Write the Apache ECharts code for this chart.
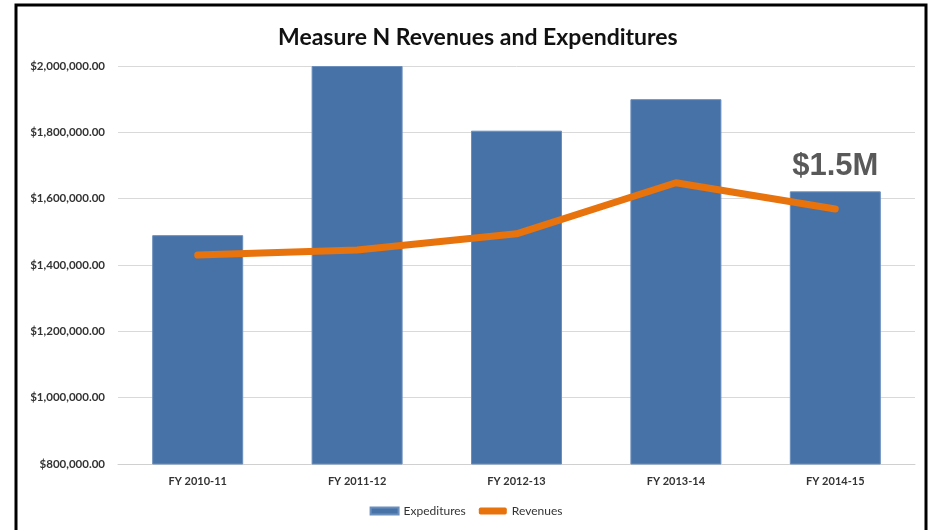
<!DOCTYPE html>
<html>
<head>
<meta charset="utf-8">
<script src="https://cdn.jsdelivr.net/npm/echarts@6/dist/echarts.min.js"></script>
<style>
  html, body { margin: 0; padding: 0; background: #fff; }
  #chart { width: 932px; height: 530px; }
</style>
</head>
<body>
<div id="chart"></div>
<script>
// chart data
const categories = ['FY 2010-11', 'FY 2011-12', 'FY 2012-13', 'FY 2013-14', 'FY 2014-15']
const expenditures = [1490000, 2000000, 1805000, 1900000, 1622000]
const revenues = [1430000, 1445000, 1494000, 1648000, 1569000]
const annotation = '$1.5M'

const font = 'Lato, "Open Sans", sans-serif'

const money = (v) => '$' + v.toLocaleString('en-US', { minimumFractionDigits: 2 })

const chart = echarts.init(document.getElementById('chart'))

chart.setOption({
  animation: false,
  textStyle: { fontFamily: font },
  title: {
    text: 'Measure N Revenues and Expenditures',
    left: 273,
    top: 21,
    textStyle: { fontSize: 23, fontWeight: 'bold', color: '#111', fontFamily: font },
  },
  graphic: [
    {
      type: 'rect',
      shape: { x: 16, y: 5, width: 910, height: 600 },
      style: { fill: 'none', stroke: '#000', lineWidth: 3 },
      silent: true,
    },
  ],
  legend: {
    bottom: 8,
    left: 'center',
    itemGap: 13,
    itemWidth: 28,
    itemHeight: 7,
    textStyle: { fontSize: 12, color: '#333', fontFamily: font },
    data: [
      { name: 'Expeditures', icon: 'rect' },
      { name: 'Revenues', icon: 'roundRect' },
    ],
  },
  grid: { left: 118, right: 17, top: 66, bottom: 66 },
  xAxis: {
    type: 'category',
    data: categories,
    axisLine: { lineStyle: { color: '#d0d0d0', width: 1 } },
    axisTick: { show: false },
    axisLabel: { fontSize: 11, fontWeight: 'bold', color: '#333', margin: 12 },
  },
  yAxis: {
    type: 'value',
    min: 800000,
    max: 2000000,
    interval: 200000,
    axisLine: { show: false },
    axisTick: { show: false },
    splitLine: { lineStyle: { color: '#d9d9d9', width: 1 } },
    axisLabel: {
      fontSize: 11.5,
      fontWeight: 'bold',
      color: '#333',
      margin: 13,
      formatter: money,
    },
  },
  series: [
    {
      name: 'Expeditures',
      type: 'bar',
      barWidth: 91,
      data: expenditures.map((v, i) =>
        i === expenditures.length - 1
          ? {
              value: v,
              label: {
                show: true,
                position: 'top',
                distance: 9,
                formatter: annotation,
                fontSize: 31,
                fontWeight: 'bold',
                color: '#595959',
                fontFamily: '"Liberation Sans", Arial, sans-serif',
              },
            }
          : v
      ),
      itemStyle: { color: '#4672a8', borderColor: '#6b8fbd', borderWidth: 1 },
    },
    {
      name: 'Revenues',
      type: 'line',
      data: revenues,
      symbol: 'none',
      z: 5,
      lineStyle: { color: '#e8720c', width: 7, cap: 'round', join: 'round' },
      itemStyle: { color: '#e8720c' },
    },
  ],
})
</script>
</body>
</html>
